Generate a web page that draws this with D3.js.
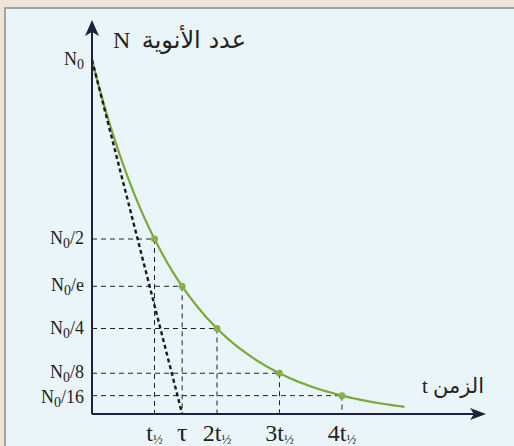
<!DOCTYPE html>
<html><head><meta charset="utf-8">
<script src="https://cdn.jsdelivr.net/npm/d3@7"></script>
<style>html,body{margin:0;padding:0;background:#efe4d8;}svg{display:block;}</style>
</head><body>
<script>
// Data (in units of t½ and N0)
const markT = [1, Math.LOG2E, 2, 3, 4];            // t½, τ, 2t½, 3t½, 4t½
const markLabels = [["t","½"],["τ",""],["2t","½"],["3t","½"],["4t","½"]];
const yLevels = [1, 1/2, 1/Math.E, 1/4, 1/8, 1/16];
const yLabels = ["", "/2", "/e", "/4", "/8", "/16"];
const tEnd = 5.0;
const curveSamples = d3.range(0, tEnd + 0.001, 0.05);
const yTitleLatin = "N", yTitleArabic = "عدد الأنوية";
const xTitleLatin = "t", xTitleArabic = "الزمن";

const W = 514, H = 446;
const svg = d3.select("body").append("svg").attr("width", W).attr("height", H);
svg.append("rect").attr("x",0).attr("y",0).attr("width",W).attr("height",H).attr("fill","#efe4d8");
svg.append("rect").attr("x",5).attr("y",8).attr("width",W).attr("height",H).attr("fill","#eaf5f9")
  .attr("stroke","#8c8c8c").attr("stroke-width",1.5);

const x = d3.scaleLinear().domain([0, 1]).range([92, 154.5]);
const y = d3.scaleLinear().domain([0, 1]).range([418, 60]);
const axisY = 414, axisX = 92;
const N = t => Math.pow(2, -t);

// guides
const g = svg.append("g").attr("stroke","#222").attr("stroke-width",1).attr("stroke-dasharray","5,4").attr("fill","none");
markT.forEach(t => {
  g.append("line").attr("x1",axisX).attr("x2",x(t)).attr("y1",y(N(t))).attr("y2",y(N(t)));
  g.append("line").attr("x1",x(t)).attr("x2",x(t)).attr("y1",y(N(t))).attr("y2",axisY);
});

// curve
svg.append("path").datum(curveSamples)
  .attr("d", d3.line().x(t=>x(t)).y(t=>y(N(t))))
  .attr("fill","none").attr("stroke","#7aa83a").attr("stroke-width",2.2);

// tangent at origin
const tau = Math.LOG2E;
svg.append("line").attr("x1",x(0)).attr("y1",y(1)).attr("x2",x(tau)).attr("y2",axisY)
  .attr("stroke","#1a1a1a").attr("stroke-width",2.4).attr("stroke-dasharray","4,3");

// points
svg.selectAll("circle.pt").data(markT).enter().append("circle")
  .attr("cx",t=>x(t)).attr("cy",t=>y(N(t))).attr("r",3.5).attr("fill","#86b04a");

// axes
const axc = "#1e2040";
svg.append("line").attr("x1",axisX).attr("x2",axisX).attr("y1",axisY).attr("y2",30).attr("stroke",axc).attr("stroke-width",2);
svg.append("path").attr("d",`M${axisX},20 L${axisX-7},36 L${axisX},32 L${axisX+7},36 Z`).attr("fill",axc);
svg.append("line").attr("x1",axisX).attr("x2",476).attr("y1",axisY).attr("y2",axisY).attr("stroke",axc).attr("stroke-width",2.2);
svg.append("path").attr("d",`M486,${axisY} L470,${axisY-6} L474,${axisY} L470,${axisY+6} Z`).attr("fill",axc);

// y tick labels
const serif = "'Liberation Serif','Times New Roman',serif";
yLevels.forEach((v,i) => {
  const t = svg.append("text").attr("x",84).attr("y",y(v)+ (i===5 ? 7 : 5)).attr("text-anchor","end")
    .attr("font-family",serif).attr("font-size",18).attr("fill","#222");
  t.append("tspan").text("N");
  t.append("tspan").attr("dy",4).attr("font-size",14).text("0");
  t.append("tspan").attr("dy",-4).text(yLabels[i]);
});

// x tick labels
markT.forEach((tv,i) => {
  const [a,s] = markLabels[i];
  const t = svg.append("text").attr("x",x(tv) + (s ? 0 : 0)).attr("y",441).attr("text-anchor","middle")
    .attr("font-family",serif).attr("font-size",a==="τ"?26:24).attr("fill","#222");
  t.append("tspan").text(a);
  if (s) t.append("tspan").attr("dy",3).attr("font-size",13).text(s);
});

// titles
const arab = "'DejaVu Sans',sans-serif";
svg.append("text").attr("x",113).attr("y",48).attr("font-family",serif)
  .attr("font-size",24).attr("fill","#222").text(yTitleLatin);
svg.append("text").attr("x",246).attr("y",48).attr("text-anchor","end").attr("font-family",arab)
  .attr("font-size",24).attr("fill","#222").text(yTitleArabic);
svg.append("text").attr("x",422).attr("y",393).attr("font-family",serif)
  .attr("font-size",21).attr("fill","#222").text(xTitleLatin);
svg.append("text").attr("x",484).attr("y",393).attr("text-anchor","end").attr("font-family",arab)
  .attr("font-size",21).attr("fill","#222").text(xTitleArabic);
</script>
</body></html>
